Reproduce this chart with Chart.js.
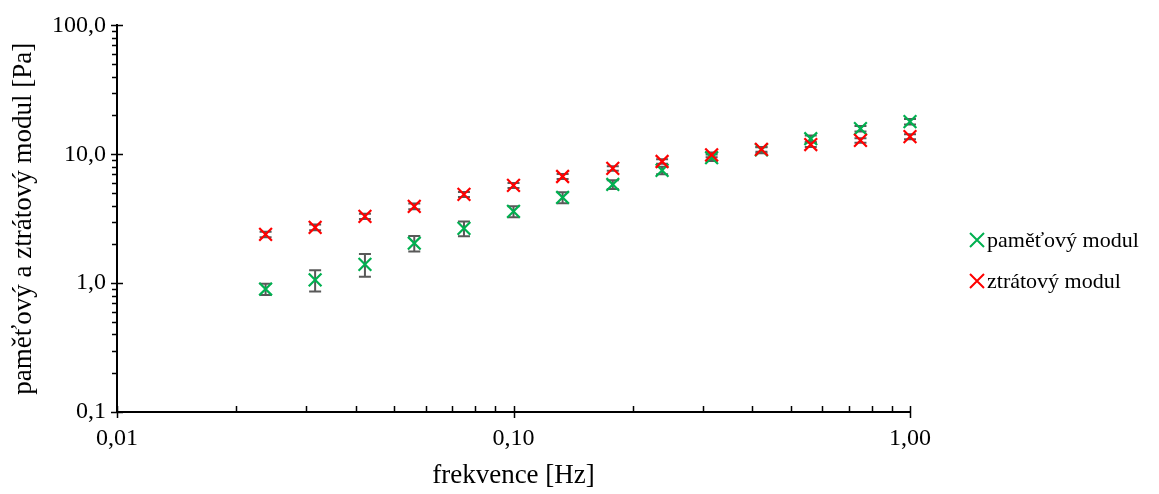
<!DOCTYPE html>
<html>
<head>
<meta charset="utf-8">
<script src="https://cdn.jsdelivr.net/npm/chart.js@4/dist/chart.umd.min.js"></script>
<style>
  html, body { margin: 0; padding: 0; background: #fff; }
  #wrap { width: 1159px; height: 494px; }
</style>
</head>
<body>
<div id="wrap"><canvas id="modul"></canvas></div>
<script>
// data
const freq = [0.0237, 0.0316, 0.0422, 0.0562, 0.075, 0.1, 0.133, 0.178, 0.237, 0.316, 0.422, 0.562, 0.75, 1.0];
const storage = [0.90, 1.06, 1.40, 2.04, 2.66, 3.60, 4.62, 5.83, 7.49, 9.4, 10.8, 13.2, 15.8, 17.9];
const storageErr = [0.09, 0.2, 0.28, 0.28, 0.35, 0.35, 0.45, 0.45, 0.5, 0.55, 0.6, 0.8, 0.8, 0.9];
const loss = [2.39, 2.71, 3.30, 3.94, 4.88, 5.73, 6.72, 7.76, 8.79, 9.9, 10.9, 11.9, 12.8, 13.7];
const lossErr = [0.12, 0.14, 0.16, 0.2, 0.22, 0.25, 0.3, 0.3, 0.35, 0.4, 0.45, 0.5, 0.5, 0.6];

const xTicks = [0.01, 0.1, 1];
const xTickLabels = ['0,01', '0,10', '1,00'];
const yTicks = [0.1, 1, 10, 100];
const yTickLabels = ['0,1', '1,0', '10,0', '100,0'];

const FONT = "'Liberation Serif', 'Times New Roman', serif";

function points(ys) {
    return freq.map((f, i) => ({ x: f, y: ys[i] }));
}

// error bars, drawn under the markers
const errorBars = {
    id: 'errorBars',
    beforeDatasetsDraw(chart) {
        const ctx = chart.ctx;
        const x = chart.scales.x, y = chart.scales.y;
        ctx.save();
        ctx.strokeStyle = '#595959';
        ctx.lineWidth = 2;
        chart.data.datasets.forEach(ds => {
            ds.data.forEach((p, i) => {
                const e = ds.errors[i];
                const px = x.getPixelForValue(p.x);
                const top = y.getPixelForValue(p.y + e);
                const bot = y.getPixelForValue(p.y - e);
                ctx.beginPath();
                ctx.moveTo(px, top); ctx.lineTo(px, bot);
                ctx.moveTo(px - 6, top); ctx.lineTo(px + 6, top);
                ctx.moveTo(px - 6, bot); ctx.lineTo(px + 6, bot);
                ctx.stroke();
            });
        });
        ctx.restore();
    }
};

// major and minor tick marks like the original
const tickMarks = {
    id: 'tickMarks',
    afterDraw(chart) {
        const ctx = chart.ctx;
        const x = chart.scales.x, y = chart.scales.y;
        const a = chart.chartArea;
        ctx.save();
        ctx.strokeStyle = '#000';
        ctx.lineWidth = 1.5;
        ctx.beginPath();
        for (let i = 0; i < yTicks.length; i++) {
            const py = Math.round(y.getPixelForValue(yTicks[i])) + 0.5;
            ctx.moveTo(a.left - 6, py); ctx.lineTo(a.left + 6, py);
            if (i < yTicks.length - 1) {
                for (let k = 2; k < 10; k++) {
                    const my = Math.round(y.getPixelForValue(yTicks[i] * k)) + 0.5;
                    ctx.moveTo(a.left - 5, my); ctx.lineTo(a.left, my);
                }
            }
        }
        for (let i = 0; i < xTicks.length; i++) {
            const px = Math.round(x.getPixelForValue(xTicks[i])) + 0.5;
            ctx.moveTo(px, a.bottom - 6); ctx.lineTo(px, a.bottom + 6);
            if (i < xTicks.length - 1) {
                for (let k = 2; k < 10; k++) {
                    const mx = Math.round(x.getPixelForValue(xTicks[i] * k)) + 0.5;
                    ctx.moveTo(mx, a.bottom - 6); ctx.lineTo(mx, a.bottom);
                }
            }
        }
        ctx.stroke();
        ctx.restore();
    }
};

// legend on the right side
const sideLegend = {
    id: 'sideLegend',
    afterDraw(chart) {
        const ctx = chart.ctx;
        const rows = [240, 281];
        ctx.save();
        ctx.font = '22px ' + FONT;
        ctx.textBaseline = 'middle';
        ctx.textAlign = 'left';
        chart.data.datasets.forEach((ds, i) => {
            const cy = rows[i];
            const cx = 977;
            ctx.strokeStyle = ds.borderColor;
            ctx.lineWidth = 2;
            ctx.beginPath();
            ctx.moveTo(cx - 7, cy - 7); ctx.lineTo(cx + 7, cy + 7);
            ctx.moveTo(cx + 7, cy - 7); ctx.lineTo(cx - 7, cy + 7);
            ctx.stroke();
            ctx.fillStyle = '#000';
            ctx.fillText(ds.label, 987, cy + 1);
        });
        ctx.restore();
    }
};

new Chart(document.getElementById('modul'), {
    type: 'scatter',
    data: {
        datasets: [{
            label: 'paměťový modul',
            data: points(storage),
            errors: storageErr,
            borderColor: '#00B050',
            backgroundColor: '#00B050',
            clip: false,
            order: 2
        }, {
            label: 'ztrátový modul',
            data: points(loss),
            errors: lossErr,
            borderColor: '#FF0000',
            backgroundColor: '#FF0000',
            clip: false,
            order: 1
        }]
    },
    options: {
        responsive: true,
        maintainAspectRatio: false,
        animation: false,
        elements: {
            point: { pointStyle: 'crossRot', radius: 9, hoverRadius: 9, borderWidth: 2.2 }
        },
        layout: { padding: { top: 24, right: 249, bottom: 0, left: 0 } },
        plugins: {
            legend: { display: false },
            tooltip: { enabled: false }
        },
        scales: {
            x: {
                type: 'logarithmic',
                min: 0.01,
                max: 1,
                afterBuildTicks: s => { s.ticks = xTicks.map(v => ({ value: v })); },
                afterFit: s => { s.height = 82; },
                grid: { display: false, drawTicks: false },
                border: { display: true, color: '#000', width: 2 },
                ticks: {
                    padding: 12,
                    maxRotation: 0,
                    color: '#000',
                    font: { family: FONT, size: 24 },
                    callback: (v, i) => xTickLabels[i]
                },
                title: {
                    display: true,
                    text: 'frekvence [Hz]',
                    color: '#000',
                    font: { family: FONT, size: 27 },
                    padding: { top: 0, bottom: 2 }
                }
            },
            y: {
                type: 'logarithmic',
                min: 0.1,
                max: 100,
                afterBuildTicks: s => { s.ticks = yTicks.map(v => ({ value: v })); },
                afterFit: s => { s.width = 117; },
                grid: { display: false, drawTicks: false },
                border: { display: true, color: '#000', width: 2 },
                ticks: {
                    padding: 11,
                    color: '#000',
                    font: { family: FONT, size: 24 },
                    callback: (v, i) => yTickLabels[i]
                },
                title: {
                    display: true,
                    text: 'paměťový a ztrátový modul [Pa]',
                    color: '#000',
                    font: { family: FONT, size: 27 },
                    padding: { top: 8, bottom: 0 }
                }
            }
        }
    },
    plugins: [errorBars, tickMarks, sideLegend]
});
</script>
</body>
</html>
